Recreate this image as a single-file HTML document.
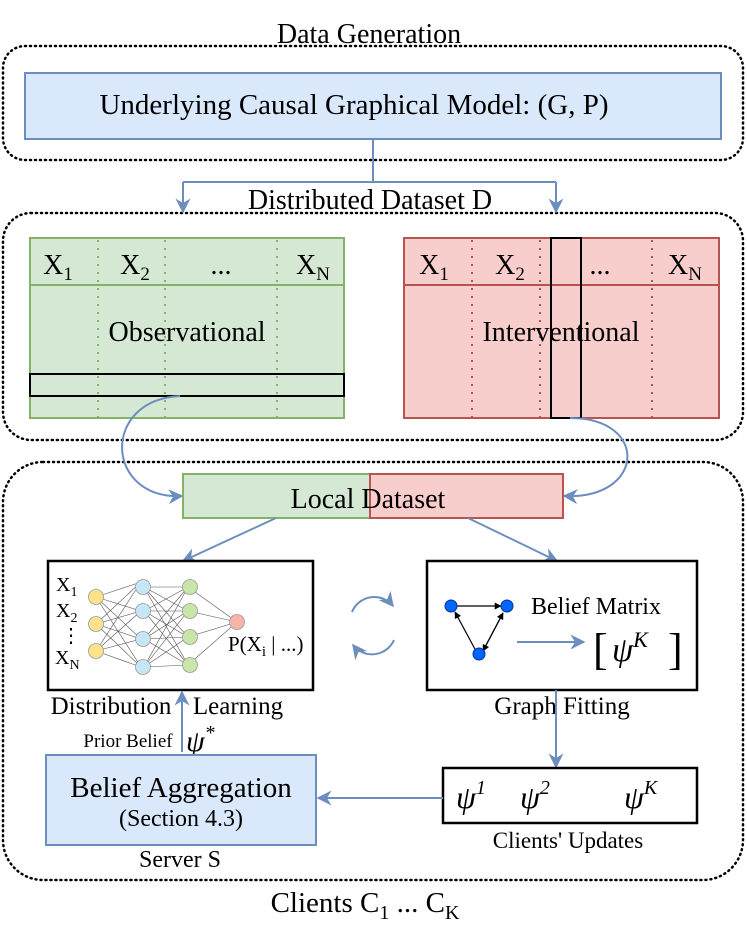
<!DOCTYPE html>
<html><head><meta charset="utf-8"><style>body{margin:0;background:#fff}svg{display:block}text{font-family:"Liberation Serif",serif;fill:#000}</style></head><body>
<svg width="747" height="944" viewBox="0 0 747 944" xmlns="http://www.w3.org/2000/svg">
<defs>
<marker id="A" viewBox="0 0 10 10" refX="9" refY="5" markerWidth="15" markerHeight="15" markerUnits="userSpaceOnUse" orient="auto"><path d="M0,0 L10,5 L0,10 L3,5 z" fill="#6c8ebf"/></marker>
<marker id="k" viewBox="0 0 10 10" refX="9" refY="5" markerWidth="7" markerHeight="7" markerUnits="userSpaceOnUse" orient="auto"><path d="M0,0 L10,5 L0,10 z" fill="#000"/></marker>
</defs>
<g fill="none" stroke="#000" stroke-width="2.5" stroke-dasharray="1 4" stroke-linecap="round">
<rect x="3" y="46" width="740" height="114" rx="22"/>
<rect x="3" y="213" width="740" height="227" rx="28"/>
<rect x="3" y="462" width="740" height="418" rx="40"/>
</g>
<text x="369" y="43" font-size="28" text-anchor="middle">Data Generation</text>
<rect x="25" y="73" width="696" height="66" fill="#dae8fc" stroke="#6c8ebf" stroke-width="2"/>
<text x="354" y="114" font-size="29" text-anchor="middle">Underlying Causal Graphical Model: (G, P)</text>
<g stroke="#6c8ebf" stroke-width="2" fill="none">
<path d="M373,139 V182 M183,182 H556 M183,182 V212" marker-end="url(#A)"/>
<path d="M556,182 V212" marker-end="url(#A)"/>
</g>
<text x="370" y="209" font-size="28" text-anchor="middle">Distributed Dataset D</text>
<rect x="30" y="238" width="314" height="180" fill="#d5e8d4" stroke="#82b366" stroke-width="2"/>
<line x1="30" y1="285" x2="344" y2="285" stroke="#82b366" stroke-width="2"/>
<g stroke="#82b366" stroke-width="2" stroke-dasharray="2 6"><line x1="98" y1="240" x2="98" y2="417"/><line x1="165" y1="240" x2="165" y2="417"/><line x1="277" y1="240" x2="277" y2="417"/></g>
<g font-size="28" text-anchor="middle"><text x="58" y="274">X<tspan font-size="19" dy="6">1</tspan></text><text x="135" y="274">X<tspan font-size="19" dy="6">2</tspan></text><text x="221" y="274">...</text><text x="313" y="274">X<tspan font-size="19" dy="6">N</tspan></text></g>
<text x="187" y="341" font-size="28" text-anchor="middle">Observational</text>
<rect x="30" y="374" width="314" height="22" fill="none" stroke="#000" stroke-width="2"/>
<rect x="404" y="238" width="315" height="180" fill="#f8cecc" stroke="#b85450" stroke-width="2"/>
<line x1="404" y1="285" x2="719" y2="285" stroke="#b85450" stroke-width="2"/>
<g stroke="#b85450" stroke-width="2" stroke-dasharray="2 6"><line x1="472" y1="240" x2="472" y2="417"/><line x1="540" y1="240" x2="540" y2="417"/><line x1="652" y1="240" x2="652" y2="417"/></g>
<g font-size="28" text-anchor="middle"><text x="434" y="274">X<tspan font-size="19" dy="6">1</tspan></text><text x="510" y="274">X<tspan font-size="19" dy="6">2</tspan></text><text x="600" y="274">...</text><text x="685" y="274">X<tspan font-size="19" dy="6">N</tspan></text></g>
<text x="561" y="341" font-size="28" text-anchor="middle">Interventional</text>
<rect x="551" y="238" width="30" height="180" fill="none" stroke="#000" stroke-width="2"/>
<g stroke="#6c8ebf" stroke-width="2" fill="none">
<path d="M180,396 C100,400 105,500 182,496" marker-end="url(#A)"/>
<path d="M570,418 C650,418 645,500 564,496" marker-end="url(#A)"/>
</g>
<rect x="183" y="474" width="187" height="44" fill="#d5e8d4" stroke="#82b366" stroke-width="2"/>
<rect x="370" y="474" width="193" height="44" fill="#f8cecc" stroke="#b85450" stroke-width="2"/>
<text x="368" y="508" font-size="28" text-anchor="middle">Local Dataset</text>
<g stroke="#6c8ebf" stroke-width="2" fill="none">
<path d="M276,518 L183,561" marker-end="url(#A)"/>
<path d="M468,518 L557,561" marker-end="url(#A)"/>
</g>
<rect x="48" y="561" width="265" height="129" fill="#fff" stroke="#000" stroke-width="2.5"/>
<g stroke="#555" stroke-width="0.6">
<path d="M96,597 L141,582 M96,597 L141,611 M96,597 L141,639 M96,597 L141,667 M96,624 L141,582 M96,624 L141,611 M96,624 L141,639 M96,624 L141,667 M96,651 L141,582 M96,651 L141,611 M96,651 L141,639 M96,651 L141,667"/>
<path d="M144,587 L188,587 M144,587 L188,611 M144,587 L188,637 M144,587 L188,665 M144,611 L188,587 M144,611 L188,611 M144,611 L188,637 M144,611 L188,665 M144,639 L188,587 M144,639 L188,611 M144,639 L188,637 M144,639 L188,665 M144,667 L188,587 M144,667 L188,611 M144,667 L188,637 M144,667 L188,665"/>
<path d="M188,587 L237,622 M188,611 L237,622 M188,637 L237,622 M188,665 L237,622"/>
</g>
<g stroke="#999" stroke-width="0.8">
<circle cx="96" cy="597" r="7.5" fill="#ffe28a"/><circle cx="96" cy="624" r="7.5" fill="#ffe28a"/><circle cx="96" cy="651" r="7.5" fill="#ffe28a"/>
<circle cx="143" cy="587" r="7.5" fill="#c6e5f7"/><circle cx="143" cy="611" r="7.5" fill="#c6e5f7"/><circle cx="143" cy="639" r="7.5" fill="#c6e5f7"/><circle cx="143" cy="667" r="7.5" fill="#c6e5f7"/>
<circle cx="190" cy="587" r="7.5" fill="#c8e6a8"/><circle cx="190" cy="611" r="7.5" fill="#c8e6a8"/><circle cx="190" cy="637" r="7.5" fill="#c8e6a8"/><circle cx="190" cy="665" r="7.5" fill="#c8e6a8"/>
<circle cx="237" cy="622" r="7.5" fill="#f8b4a8"/>
</g>
<g font-size="20"><text x="56" y="591">X<tspan font-size="14" dy="5">1</tspan></text><text x="56" y="617">X<tspan font-size="14" dy="5">2</tspan></text><text x="61" y="642">⋮</text><text x="55" y="664">X<tspan font-size="14" dy="5">N</tspan></text></g>
<text x="228" y="651" font-size="21">P(X<tspan font-size="15" dy="5">i</tspan><tspan dy="-5"> | ...)</tspan></text>
<g stroke="#6c8ebf" stroke-width="2" fill="none">
<path d="M352,612 A24,24 0 0 1 393,606" marker-end="url(#A)"/>
<path d="M394,640 A24,24 0 0 1 353,645" marker-end="url(#A)"/>
</g>
<rect x="427" y="561" width="270" height="129" fill="#fff" stroke="#000" stroke-width="2.5"/>
<g stroke="#000" stroke-width="1.2" fill="none">
<path d="M457,606 L501,606" marker-end="url(#k)"/>
<path d="M476,651 L455,612" marker-end="url(#k)"/>
<path d="M483,651 L503,613" marker-end="url(#k)"/>
<path d="M503,613 L483,651" marker-end="url(#k)"/>
</g>
<g fill="#0066ff" stroke="#003399" stroke-width="1"><circle cx="451" cy="606" r="6"/><circle cx="507" cy="606" r="6"/><circle cx="479" cy="654" r="6"/></g>
<path d="M517,642 L584,642" stroke="#6c8ebf" stroke-width="2" marker-end="url(#A)"/>
<text x="596" y="614" font-size="24" text-anchor="middle">Belief Matrix</text>
<text x="593" y="664" font-size="44">[</text><text x="612" y="661" font-size="34" font-style="italic">ψ<tspan font-size="22" dy="-14">K</tspan></text><text x="668" y="664" font-size="44">]</text>
<text x="111" y="714" font-size="25" text-anchor="middle">Distribution</text>
<text x="238" y="714" font-size="25" text-anchor="middle">Learning</text>
<text x="562" y="714" font-size="25" text-anchor="middle">Graph Fitting</text>
<path d="M182,752 L182,692" stroke="#6c8ebf" stroke-width="2" marker-end="url(#A)"/>
<text x="128" y="747" font-size="19" text-anchor="middle">Prior Belief</text>
<text x="186" y="751" font-size="30" font-style="italic">ψ<tspan font-size="20" dy="-12">*</tspan></text>
<rect x="46" y="755" width="270" height="90" fill="#dae8fc" stroke="#6c8ebf" stroke-width="2"/>
<text x="181" y="797" font-size="29" text-anchor="middle">Belief Aggregation</text>
<text x="181" y="826" font-size="24" text-anchor="middle">(Section 4.3)</text>
<text x="180" y="867" font-size="24" text-anchor="middle">Server S</text>
<path d="M556,690 L556,767" stroke="#6c8ebf" stroke-width="2" marker-end="url(#A)"/>
<rect x="443" y="768" width="254" height="55" fill="#fff" stroke="#000" stroke-width="2.5"/>
<g font-size="32" font-style="italic"><text x="456" y="808">ψ<tspan font-size="20" dy="-14">1</tspan></text><text x="520" y="808">ψ<tspan font-size="20" dy="-14">2</tspan></text><text x="624" y="808">ψ<tspan font-size="20" dy="-14">K</tspan></text></g>
<path d="M443,798 L318,798" stroke="#6c8ebf" stroke-width="2" marker-end="url(#A)"/>
<text x="568" y="848" font-size="23" text-anchor="middle">Clients' Updates</text>
<text x="365" y="912" font-size="29" text-anchor="middle">Clients C<tspan font-size="20" dy="7">1</tspan><tspan dy="-7"> ... C</tspan><tspan font-size="20" dy="7">K</tspan></text>
</svg>
</body></html>
